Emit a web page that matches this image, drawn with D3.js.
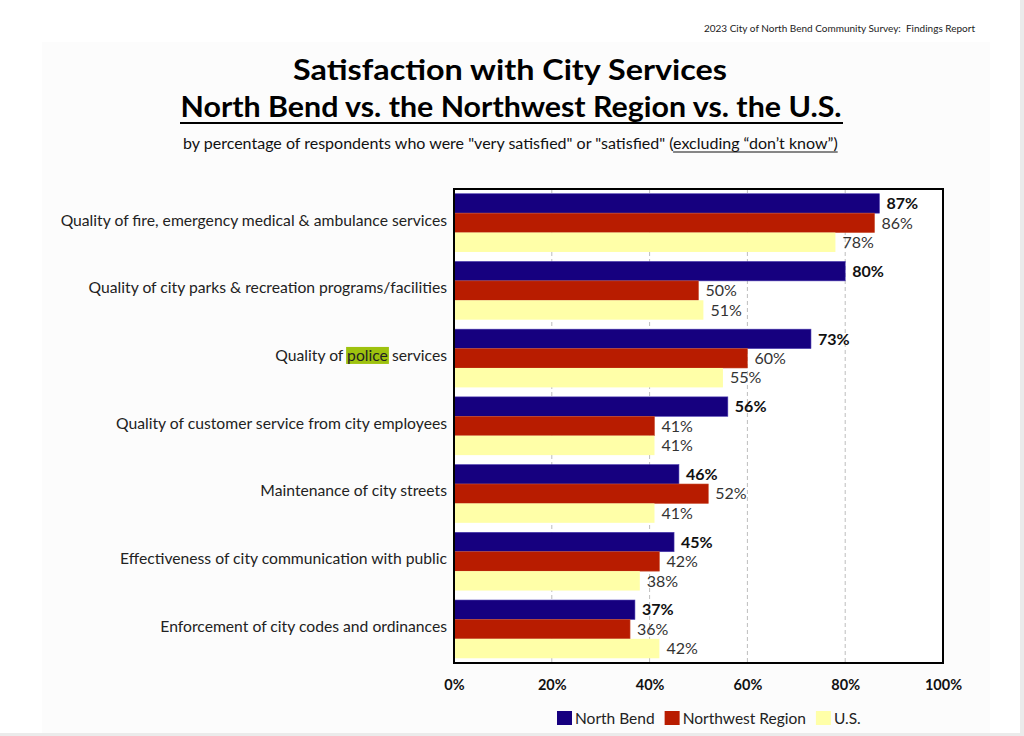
<!DOCTYPE html>
<html>
<head>
<meta charset="utf-8">
<script src="https://cdn.jsdelivr.net/npm/d3@7"></script>
<style>
  html, body { margin: 0; padding: 0; background: #ebebeb; }
  svg { display: block; font-family: Lato, "Open Sans", sans-serif; }
</style>
</head>
<body>
<div id="chart"></div>
<script>
const categories = [
  "Quality of fire, emergency medical & ambulance services",
  "Quality of city parks & recreation programs/facilities",
  "Quality of police services",
  "Quality of customer service from city employees",
  "Maintenance of city streets",
  "Effectiveness of city communication with public",
  "Enforcement of city codes and ordinances",
];
const seriesNames = ["North Bend", "Northwest Region", "U.S."];
const northBend = [87, 80, 73, 56, 46, 45, 37];
const northwestRegion = [86, 50, 60, 41, 52, 42, 36];
const unitedStates = [78, 51, 55, 41, 41, 38, 42];
const xTicks = [0, 20, 40, 60, 80, 100];
const highlightWord = "police";

const width = 1024;
const height = 736;
const margin = { top: 189, right: 81, bottom: 73, left: 454 };
const colors = ["#16007f", "#b81c00", "#ffffa8"];

const svg = d3.select("#chart").append("svg")
  .attr("width", width)
  .attr("height", height);

// page background
svg.append("rect").attr("width", 1020).attr("height", 733).attr("fill", "#ffffff");
svg.append("rect").attr("x", 42).attr("y", 42).attr("width", 948).attr("height", 691)
  .attr("fill", "#fcfcfc");

svg.append("text")
  .attr("x", 975).attr("y", 32)
  .attr("text-anchor", "end")
  .style("font-size", "10px")
  .style("white-space", "pre")
  .style("fill", "#222")
  .text("2023 City of North Bend Community Survey:  Findings Report");

// titles
svg.append("text")
  .attr("x", 510).attr("y", 80)
  .attr("text-anchor", "middle")
  .style("font-size", "29px").style("font-weight", "bold")
  .attr("textLength", 434).attr("lengthAdjust", "spacingAndGlyphs")
  .text("Satisfaction with City Services");

svg.append("text")
  .attr("x", 511).attr("y", 117)
  .attr("text-anchor", "middle")
  .style("font-size", "28px").style("font-weight", "bold")
  .attr("textLength", 661).attr("lengthAdjust", "spacingAndGlyphs")
  .text("North Bend vs. the Northwest Region vs. the U.S.");
svg.append("line")
  .attr("x1", 180).attr("x2", 843).attr("y1", 123).attr("y2", 123)
  .attr("stroke", "#000").attr("stroke-width", 2);

const note = svg.append("text")
  .attr("x", 183).attr("y", 149)
  .style("font-size", "14px").style("fill", "#111");
note.append("tspan").text("by percentage of respondents who were \"very satisfied\" or \"satisfied\" (");
note.append("tspan").attr("class", "ul").text("excluding \u201cdon\u2019t know\u201d)");
{
  const full = note.node().getComputedTextLength();
  const scale = 655 / full;
  note.style("font-size", (14 * scale).toFixed(2) + "px");
  const ul = note.select(".ul").node().getBBox();
  svg.append("line")
    .attr("x1", ul.x).attr("x2", ul.x + ul.width)
    .attr("y1", 152).attr("y2", 152)
    .attr("stroke", "#111").attr("stroke-width", 1);
}

// scales
const x = d3.scaleLinear().domain([0, 100]).range([margin.left, width - margin.right]);
const y = d3.scaleBand().domain(categories)
  .range([margin.top, height - margin.bottom])
  .paddingInner(0.14).paddingOuter(0.07);
const ySub = d3.scaleBand().domain(seriesNames).range([0, y.bandwidth()]);

const rows = categories.map((c, i) => ({
  category: c,
  values: [northBend[i], northwestRegion[i], unitedStates[i]],
}));

// plot background + grid
svg.append("rect")
  .attr("x", x(0)).attr("y", margin.top)
  .attr("width", x(100) - x(0)).attr("height", height - margin.bottom - margin.top)
  .attr("fill", "#ffffff");

svg.append("g")
  .selectAll("line")
  .data(xTicks.filter((t) => t > 0 && t < 100))
  .join("line")
  .attr("x1", (d) => x(d)).attr("x2", (d) => x(d))
  .attr("y1", margin.top).attr("y2", height - margin.bottom)
  .attr("stroke", "#bdbdbd").attr("stroke-dasharray", "4,3");

// bars
const groups = svg.append("g").selectAll("g")
  .data(rows)
  .join("g")
  .attr("transform", (d) => `translate(0, ${y(d.category)})`);

groups.selectAll("rect")
  .data((d) => d.values.map((v, i) => ({ v, i })))
  .join("rect")
  .attr("x", x(0))
  .attr("y", (d) => ySub(seriesNames[d.i]))
  .attr("width", (d) => x(d.v) - x(0))
  .attr("height", ySub.bandwidth())
  .attr("fill", (d) => colors[d.i])
  .attr("stroke", (d) => d.i === 0 ? "#4a3ab0" : d.i === 1 ? "#c85030" : "none")
  .attr("stroke-width", 0.6);

groups.selectAll("text")
  .data((d) => d.values.map((v, i) => ({ v, i })))
  .join("text")
  .attr("x", (d) => x(d.v) + 7)
  .attr("y", (d) => ySub(seriesNames[d.i]) + ySub.bandwidth() / 2)
  .attr("dy", "0.36em")
  .style("font-size", "16px")
  .style("font-weight", (d) => d.i === 0 ? "bold" : "normal")
  .style("fill", (d) => d.i === 0 ? "#111" : "#333")
  .text((d) => d.v + "%");

// category labels
const labels = svg.append("g").selectAll("text")
  .data(categories)
  .join("text")
  .attr("x", 447)
  .attr("y", (d) => y(d) + y.bandwidth() / 2 - 3)
  .attr("dy", "0.36em")
  .attr("text-anchor", "end")
  .style("font-size", "15.7px")
  .style("fill", "#222");

labels.each(function (d) {
  const t = d3.select(this);
  const k = d.indexOf(" " + highlightWord + " ");
  if (k < 0) { t.text(d); return; }
  t.append("tspan").text(d.slice(0, k + 1));
  t.append("tspan").attr("class", "hl").text(highlightWord);
  t.append("tspan").text(d.slice(k + 1 + highlightWord.length));
});
labels.select(".hl").each(function () {
  const b = this.getBBox();
  svg.insert("rect", "g")
    .attr("x", b.x - 1).attr("y", b.y + 1)
    .attr("width", b.width + 2).attr("height", b.height - 1)
    .attr("fill", "#9ec20e");
});

// frame
svg.append("rect")
  .attr("x", x(0)).attr("y", margin.top)
  .attr("width", x(100) - x(0)).attr("height", height - margin.bottom - margin.top)
  .attr("fill", "none").attr("stroke", "#000").attr("stroke-width", 2);

// x axis
const xAxis = svg.append("g")
  .attr("transform", `translate(0, ${height - margin.bottom})`)
  .call(d3.axisBottom(x).tickValues(xTicks).tickFormat((d) => d + "%").tickSize(0).tickPadding(17));
xAxis.select(".domain").remove();
xAxis.selectAll("text")
  .style("font-family", "Lato, sans-serif")
  .style("font-size", "14.5px")
  .style("font-weight", "bold")
  .style("fill", "#111");

// legend
const legend = svg.append("g").attr("transform", "translate(557, 718)");
let lx = 0;
seriesNames.forEach((name, i) => {
  const g = legend.append("g").attr("transform", `translate(${lx}, 0)`);
  g.append("rect").attr("x", 0).attr("y", -7).attr("width", 15).attr("height", 14)
    .attr("fill", colors[i]);
  const t = g.append("text").attr("x", 18).attr("dy", "0.36em")
    .style("font-size", "15.5px").style("fill", "#222").text(name);
  lx += 18 + t.node().getComputedTextLength() + 10;
});
</script>
</body>
</html>
